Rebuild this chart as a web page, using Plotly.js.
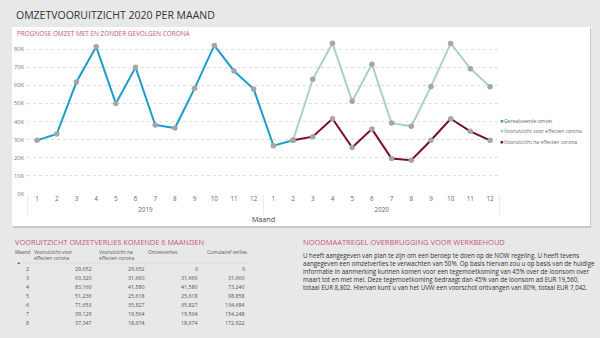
<!DOCTYPE html>
<html>
<head>
<meta charset="utf-8">
<script src="https://cdn.plot.ly/plotly-3.0.1.min.js"></script>
<style>
  html, body { margin: 0; padding: 0; background: #e8e8e8; }
  #chart { width: 600px; height: 338px; }
</style>
</head>
<body>
<div id="chart"></div>
<script>
// ---------- data ----------
const realYears   = ['2019','2019','2019','2019','2019','2019','2019','2019','2019','2019','2019','2019','2020','2020'];
const realMonths  = ['1','2','3','4','5','6','7','8','9','10','11','12','1','2'];
const realValues  = [29600, 33100, 61800, 81300, 50000, 69900, 38100, 36400, 58300, 82000, 67900, 57900, 26700, 29652];

const progYears   = ['2020','2020','2020','2020','2020','2020','2020','2020','2020','2020','2020'];
const progMonths  = ['2','3','4','5','6','7','8','9','10','11','12'];
const voorValues  = [29652, 63320, 83160, 51236, 71653, 39129, 37347, 59300, 83100, 69200, 59200];
const naValues    = [29652, 31660, 41580, 25618, 35827, 19564, 18674, 29650, 41550, 34600, 29600];

const seriesNames  = ['Gerealiseerde omzet', 'Vooruitzicht voor effecten corona', 'Vooruitzicht na effecten corona'];
const seriesColors = ['#1b9dcc', '#a8d1c9', '#7b0b33'];

const yTickVals = [0, 10000, 20000, 30000, 40000, 50000, 60000, 70000, 80000];
const yTickText = ['0K','10K','20K','30K','40K','50K','60K','70K','80K'];

// table
const tableHeaders = ['Maand', 'Vooruitzicht voor<br>effecten corona', 'Vooruitzicht na<br>effecten corona', 'Omzetverlies', 'Cumulatief verlies'];
const tableMaand   = [2, 3, 4, 5, 6, 7, 8];
const tableVoor    = [29652, 63320, 83160, 51236, 71653, 39129, 37347];
const tableNa      = [29652, 31660, 41580, 25618, 35827, 19564, 18674];
const tableVerlies = [0, 31660, 41580, 25618, 35827, 19564, 18674];
const tableCum     = [0, 31660, 73240, 98858, 134684, 154248, 172922];

const mainTitle   = 'OMZETVOORUITZICHT 2020 PER MAAND';
const chartTitle  = 'PROGNOSE OMZET MET EN ZONDER GEVOLGEN CORONA';
const tableTitle  = 'VOORUITZICHT OMZETVERLIES KOMENDE 6 MAANDEN';
const noteTitle   = 'NOODMAATREGEL OVERBRUGGING VOOR WERKBEHOUD';
const noteLines = [
  'U heeft aangegeven van plan te zijn om een beroep te doen op de NOW regeling. U heeft tevens',
  'aangegeven een omzetverlies te verwachten van 50%. Op basis hiervan zou u op basis van de huidige',
  'informatie in aanmerking kunnen komen voor een tegemoetkoming van 45% over de loonsom over',
  'maart tot en met mei. Deze tegemoetkoming bedraagt dan 45% van de loonsom ad EUR 19,560,',
  'totaal EUR 8,802. Hiervan kunt u van het UVW een voorschot ontvangen van 80%, totaal EUR 7,042.'
];

// ---------- helpers ----------
const W = 600, H = 338;
const px = x => x / W;
const py = y => 1 - y / H;
const FONT = 'Open Sans, Noto Sans, sans-serif';
const fmt = v => v.toLocaleString('en-US');

const marker = { color: '#a6a6a6', size: 5.5 };

const traces = [
  { type: 'scatter', mode: 'lines+markers', name: seriesNames[0],
    x: [realYears, realMonths], y: realValues,
    line: { color: seriesColors[0], width: 2 }, marker: marker, showlegend: false },
  { type: 'scatter', mode: 'lines+markers', name: seriesNames[1],
    x: [progYears, progMonths], y: voorValues,
    line: { color: seriesColors[1], width: 2 }, marker: marker, showlegend: false },
  { type: 'scatter', mode: 'lines+markers', name: seriesNames[2],
    x: [progYears, progMonths], y: naValues,
    line: { color: seriesColors[2], width: 2 }, marker: marker, showlegend: false }
];

const annotations = [];
function txt(x, y, text, opts) {
  annotations.push(Object.assign({
    xref: 'paper', yref: 'paper', x: px(x), y: py(y), text: text,
    showarrow: false, xanchor: 'left', yanchor: 'middle', align: 'left',
    font: { family: FONT, size: 7, color: '#333' }
  }, opts || {}));
}

// titles
txt(14, 15, mainTitle, { font: { family: FONT, size: 10.5, color: '#333' } });
txt(15, 34, chartTitle, { font: { family: FONT, size: 6.4, color: '#c8557c' } });
txt(13, 242, tableTitle, { font: { family: FONT, size: 7.4, color: '#c8557c' } });
txt(301, 242, noteTitle, { font: { family: FONT, size: 7.5, color: '#c8557c' } });
txt(301, 249, noteLines.join('<br>'), { yanchor: 'top', font: { family: FONT, size: 6.2, color: '#333' } });

// legend
const legendY = [120, 130.5, 141];
seriesNames.forEach((n, i) => {
  txt(497.5, legendY[i], '<span style="color:' + seriesColors[i] + ';font-size:6.5px">●</span>' + n,
      { font: { family: FONT, size: 5, color: '#666' } });
});

// table
const hdrX = [13, 32, 97, 146, 205];
tableHeaders.forEach((h, i) => {
  txt(hdrX[i], 247, h, { yanchor: 'top', font: { family: FONT, size: 4.8, color: '#555' } });
});
txt(15, 262, '▲', { font: { family: FONT, size: 3.5, color: '#333' } });
const colRight = [31, 93.5, 147, 200, 247];
const cols = [tableMaand, tableVoor, tableNa, tableVerlies, tableCum];
tableMaand.forEach((m, r) => {
  const y = 269 + r * 9;
  cols.forEach((c, ci) => {
    txt(colRight[ci], y, ci === 0 ? String(c[r]) : fmt(c[r]),
        { xanchor: 'right', align: 'right', font: { family: FONT, size: 5.3, color: '#555' } });
  });
});

const layout = {
  width: W, height: H, autosize: false,
  margin: { l: 0, r: 0, t: 0, b: 0, pad: 0 },
  paper_bgcolor: '#e8e8e8',
  plot_bgcolor: '#ffffff',
  showlegend: false,
  font: { family: FONT, color: '#666' },
  xaxis: {
    type: 'multicategory',
    domain: [px(27.2), px(499.9)],
    range: [-0.5, 23.5], autorange: false,
    showgrid: false, zeroline: false, showline: false,
    ticks: '',
    tickfont: { family: FONT, size: 6.3, color: '#666' },
    showdividers: true, dividercolor: '#ececec', dividerwidth: 1,
    title: { text: 'Maand', font: { family: FONT, size: 7.2, color: '#444' }, standoff: 3 }
  },
  yaxis: {
    domain: [py(194), py(40)],
    range: [0, 85000],
    tickvals: yTickVals, ticktext: yTickText,
    tickfont: { family: FONT, size: 5.8, color: '#777' },
    showgrid: true, gridcolor: '#dedede', griddash: 'dot', gridwidth: 1,
    zeroline: false, showline: false, ticks: '', ticklabelstandoff: 2
  },
  shapes: [
    { type: 'rect', xref: 'paper', yref: 'paper', layer: 'below',
      x0: px(13), x1: px(591), y0: py(228), y1: py(28),
      fillcolor: '#c9c9c9', line: { width: 0 } },
    { type: 'rect', xref: 'paper', yref: 'paper', layer: 'below',
      x0: px(12), x1: px(590), y0: py(226), y1: py(27),
      fillcolor: '#ffffff', line: { width: 0 } },
    { type: 'line', xref: 'paper', yref: 'paper', layer: 'below',
      x0: px(13), x1: px(250), y0: py(263), y1: py(263),
      line: { color: '#d6d6d6', width: 0.6 } }
  ],
  annotations: annotations
};

Plotly.newPlot('chart', traces, layout, { displayModeBar: false, staticPlot: true });
</script>
</body>
</html>
